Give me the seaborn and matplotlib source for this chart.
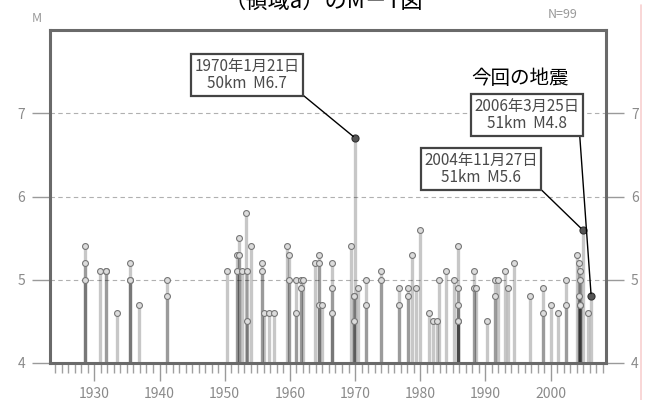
import datetime as dt

import matplotlib
matplotlib.use("Agg")
import matplotlib.pyplot as plt
import numpy as np
import pandas as pd
import seaborn as sns
from matplotlib.lines import Line2D
from matplotlib.ticker import MultipleLocator

# Earthquakes M>=4.5 in the region (decimal year, magnitude)
years = [
    1928.6, 1928.6, 1928.6,
    1930.9, 1931.8, 1931.8, 1933.5,
    1935.4, 1935.4, 1935.4, 1936.9,
    1941.2, 1941.2,
    1950.3, 1951.9, 1951.9, 1952.2, 1952.2, 1952.6,
    1953.2, 1953.4, 1953.4, 1954.1,
    1955.8, 1955.8, 1956.0, 1956.8, 1957.5,
    1959.5, 1959.8, 1959.8, 1960.9, 1960.9, 1961.7, 1961.7, 1962.0,
    1963.8, 1964.4, 1964.4, 1964.4, 1964.9,
    1966.4, 1966.4, 1966.4,
    1969.4, 1969.8, 1969.8, 1969.8, 1970.4,
    1971.7, 1971.7, 1974.0, 1974.0,
    1976.7, 1976.7, 1978.1, 1978.1, 1978.7, 1979.4, 1980.0,
    1981.4, 1982.0, 1982.6, 1982.9, 1984.0, 1985.2,
    1985.8, 1985.8, 1985.8, 1985.8, 1985.8,
    1988.3, 1988.3, 1988.6, 1990.3,
    1991.5, 1991.5, 1992.0, 1993.0, 1993.4, 1994.4,
    1996.9, 1998.9, 1998.9, 2000.0, 2001.2, 2002.4, 2002.4,
    2004.0, 2004.3, 2004.3, 2004.5, 2004.5, 2004.5, 2004.5,
    2005.7,
]
mags = [
    5.4, 5.2, 5.0,
    5.1, 5.1, 5.1, 4.6,
    5.2, 5.0, 5.0, 4.7,
    5.0, 4.8,
    5.1, 5.3, 5.1, 5.5, 5.3, 5.1,
    5.8, 4.5, 5.1, 5.4,
    5.2, 5.1, 4.6, 4.6, 4.6,
    5.4, 5.3, 5.0, 5.0, 4.6, 5.0, 4.9, 5.0,
    5.2, 5.3, 5.2, 4.7, 4.7,
    5.2, 4.9, 4.6,
    5.4, 4.8, 4.8, 4.5, 4.9,
    5.0, 4.7, 5.1, 5.0,
    4.9, 4.7, 4.9, 4.8, 5.3, 4.9, 5.6,
    4.6, 4.5, 4.5, 5.0, 5.1, 5.0,
    5.4, 4.9, 4.7, 4.5, 4.5,
    5.1, 4.9, 4.9, 4.5,
    5.0, 4.8, 5.0, 5.1, 4.9, 5.2,
    4.8, 4.9, 4.6, 4.7, 4.6, 5.0, 4.7,
    5.3, 5.2, 4.8, 5.1, 5.0, 4.7, 4.7,
    4.6,
]

# Labelled events: date, depth (km), magnitude
event_dates = ["1970-01-21", "2004-11-27", "2006-03-25"]
event_depths = [50, 51, 51]
event_mags = [6.7, 5.6, 4.8]

x_ticks = [1930, 1940, 1950, 1960, 1970, 1980, 1990, 2000]
y_ticks = [4, 5, 6, 7]


def decimal_year(s):
    d = dt.date.fromisoformat(s)
    start = dt.date(d.year, 1, 1)
    days = (dt.date(d.year + 1, 1, 1) - start).days
    return d.year + (d - start).days / days


ev = pd.DataFrame({
    "date": event_dates,
    "depth": event_depths,
    "mag": event_mags,
})
ev["year"] = ev["date"].map(decimal_year)

df = pd.concat(
    [pd.DataFrame({"year": years, "mag": mags}), ev[["year", "mag"]]],
    ignore_index=True,
)

sns.set_theme(style="white")
plt.rcParams["font.family"] = ["Noto Sans CJK JP", "DejaVu Sans"]

W, H = 650, 400
fig = plt.figure(figsize=(W / 100, H / 100), dpi=100)
ax = fig.add_axes([50 / W, 37 / H, 556 / W, 333 / H])

# stems from the M4 baseline, darker where events overlap
ax.vlines(df["year"], 4, df["mag"], colors="black", alpha=0.22, lw=2.4, zorder=2)

sns.scatterplot(data=df, x="year", y="mag", ax=ax, marker="o", s=18,
                color="#dcdcdc", edgecolor="#777777", linewidth=0.8,
                zorder=3, legend=False)
sns.scatterplot(data=ev, x="year", y="mag", ax=ax, marker="o", s=26,
                color="#555555", edgecolor="#333333", linewidth=0.8,
                zorder=4, legend=False)

ax.set_xlim(1923.2, 2008.5)
ax.set_ylim(4, 8)
ax.set_xticks(x_ticks)
ax.set_xticklabels([str(t) for t in x_ticks])
ax.xaxis.set_minor_locator(MultipleLocator(1))
ax.set_yticks(y_ticks)
ax.set_yticklabels([str(t) for t in y_ticks])
ax.set_xlabel("")
ax.set_ylabel("")

ax.tick_params(axis="x", which="major", direction="out", length=13, width=1,
               color="#9a9a9a", labelcolor="#8a8a8a", labelsize=10, pad=4,
               bottom=True)
ax.tick_params(axis="x", which="minor", direction="out", length=7, width=1,
               color="#a0a0a0", bottom=True)
ax.tick_params(axis="y", direction="out", length=13, width=1,
               color="#9a9a9a", labelcolor="#8a8a8a", labelsize=10,
               left=True, right=True, labelleft=True, labelright=True, pad=5)

ax.yaxis.grid(True, linestyle=(0, (4, 3)), color="#b0b0b0", lw=0.8, zorder=1)
ax.xaxis.grid(False)
for sp in ax.spines.values():
    sp.set_color("#6a6a6a")
    sp.set_linewidth(2.2)
    sp.set_visible(True)

# annotation boxes for the labelled events
box_pos = [(247, 325), (481, 231), (527, 285)]
for (_, r), (bx, by) in zip(ev.iterrows(), box_pos):
    d = dt.date.fromisoformat(r["date"])
    label = f"{d.year}年{d.month}月{d.day}日\n{r['depth']}km  M{r['mag']:.1f}"
    ax.annotate(
        label, xy=(r["year"], r["mag"]), xycoords="data",
        xytext=(bx, by), textcoords="figure pixels",
        ha="center", va="center", multialignment="center",
        fontsize=11, color="#4a4a4a", linespacing=1.05, zorder=6,
        bbox=dict(boxstyle="square,pad=0.22", fc="white", ec="#444444", lw=1.6),
        arrowprops=dict(arrowstyle="-", color="black", lw=1.0,
                        relpos=(1, 0), shrinkA=0, shrinkB=2),
    )

fig.text(520 / W, 1 - 78 / H, "今回の地震", fontsize=14, color="black",
         ha="center", va="center")

fig.text(0.497, 1 - 1 / H, "（領域a）のM－T図", fontsize=16, color="black",
         ha="center", va="center")
fig.text(37 / W, 1 - 18 / H, "M", fontsize=9, color="#9a9a9a",
         ha="center", va="center")
fig.text(563 / W, 1 - 15 / H, f"N={len(df)}", fontsize=9, color="#9a9a9a",
         ha="center", va="center")

fig.add_artist(Line2D([641 / W, 641 / W], [0, 395 / H], transform=fig.transFigure,
                      color="#f8cfcf", lw=1.2))

fig.savefig("out.png", dpi=100, facecolor="white")
